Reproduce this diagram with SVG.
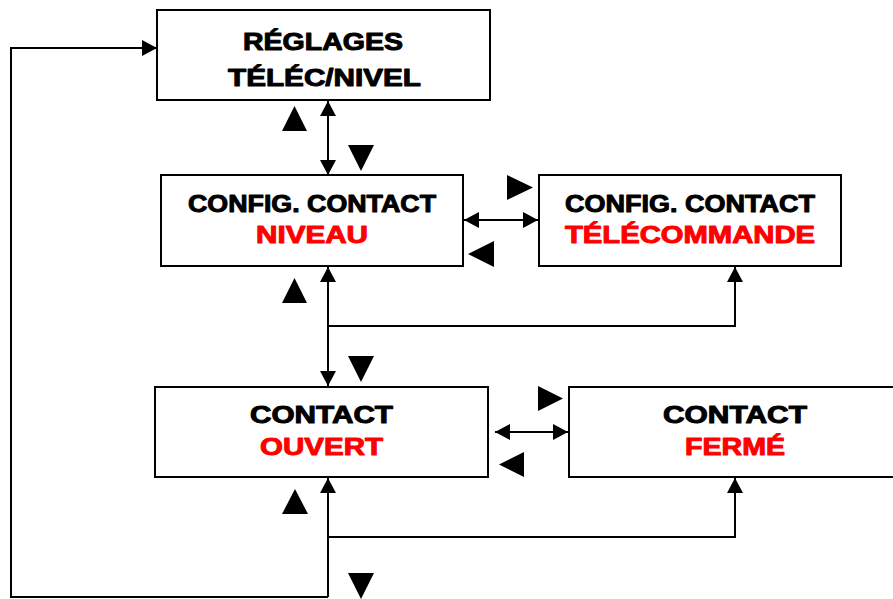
<svg xmlns="http://www.w3.org/2000/svg" width="893" height="599" viewBox="0 0 893 599">
<style>
.box{fill:#fff;stroke:#000;stroke-width:2}
.t{font-family:"Liberation Sans",Arial,sans-serif;font-weight:bold;font-size:24px;text-anchor:middle;stroke-width:1;stroke-linejoin:round}
.k{fill:#000;stroke:#000}
.r{fill:#f00;stroke:#f00}
.ln{fill:none;stroke:#000;stroke-width:2}
.tri{fill:#000}
</style>
<defs>
<marker id="ah" markerUnits="userSpaceOnUse" markerWidth="16" markerHeight="17" refX="15" refY="8.5" orient="auto-start-reverse" viewBox="0 0 16 17">
<path d="M0,0.5 L15,8.5 L0,16.5 z" fill="#000"/>
</marker>
</defs>
<rect width="893" height="599" fill="#fff"/>
<g id="connectors">
<path class="ln" d="M328,101 V175" marker-start="url(#ah)" marker-end="url(#ah)"/>
<path class="ln" d="M464,220 H538" marker-start="url(#ah)" marker-end="url(#ah)"/>
<path class="ln" d="M328,267 V386" marker-start="url(#ah)" marker-end="url(#ah)"/>
<path class="ln" d="M328,326 H735 V267" marker-end="url(#ah)"/>
<path class="ln" d="M495,432 H568" marker-start="url(#ah)" marker-end="url(#ah)"/>
<path class="ln" d="M328,597 V478" marker-end="url(#ah)"/>
<path class="ln" d="M328,537 H735 V478" marker-end="url(#ah)"/>
<path class="ln" d="M328,597 H11 V48 H157" marker-end="url(#ah)"/>
<polygon class="tri" points="282,131 307,131 294.5,106"/>
<polygon class="tri" points="348,145 374,145 361,171"/>
<polygon class="tri" points="507,175 533,187.5 507,200"/>
<polygon class="tri" points="494,241 468,254 494,267"/>
<polygon class="tri" points="282,303 307,303 294.5,278"/>
<polygon class="tri" points="348,356 374,356 361,382"/>
<polygon class="tri" points="538,386 563,398.5 538,411"/>
<polygon class="tri" points="524,452 499,464.5 524,477"/>
<polygon class="tri" points="282,514 308,514 295,489"/>
<polygon class="tri" points="348,573 374,573 361,599"/>
</g>
<g id="node-reglages">
<rect class="box" x="157" y="10" width="333" height="90"/>
<text class="t k" x="323" y="50" textLength="160" lengthAdjust="spacingAndGlyphs">RÉGLAGES</text>
<text class="t k" x="324.5" y="86" textLength="193" lengthAdjust="spacingAndGlyphs">TÉLÉC/NIVEL</text>
</g>
<g id="node-niveau">
<rect class="box" x="161" y="175" width="302" height="91"/>
<text class="t k" x="312" y="212" textLength="248" lengthAdjust="spacingAndGlyphs">CONFIG. CONTACT</text>
<text class="t r" x="312" y="243" textLength="112" lengthAdjust="spacingAndGlyphs">NIVEAU</text>
</g>
<g id="node-telecommande">
<rect class="box" x="539" y="175" width="302" height="91"/>
<text class="t k" x="690" y="212" textLength="250" lengthAdjust="spacingAndGlyphs">CONFIG. CONTACT</text>
<text class="t r" x="690" y="243" textLength="250" lengthAdjust="spacingAndGlyphs">TÉLÉCOMMANDE</text>
</g>
<g id="node-ouvert">
<rect class="box" x="155" y="387" width="333" height="90"/>
<text class="t k" x="321.5" y="423" textLength="143" lengthAdjust="spacingAndGlyphs">CONTACT</text>
<text class="t r" x="321.5" y="455" textLength="123" lengthAdjust="spacingAndGlyphs">OUVERT</text>
</g>
<g id="node-ferme">
<rect class="box" x="569" y="387" width="333" height="90"/>
<text class="t k" x="735" y="423" textLength="144" lengthAdjust="spacingAndGlyphs">CONTACT</text>
<text class="t r" x="735" y="455" textLength="100" lengthAdjust="spacingAndGlyphs">FERMÉ</text>
</g>
</svg>
